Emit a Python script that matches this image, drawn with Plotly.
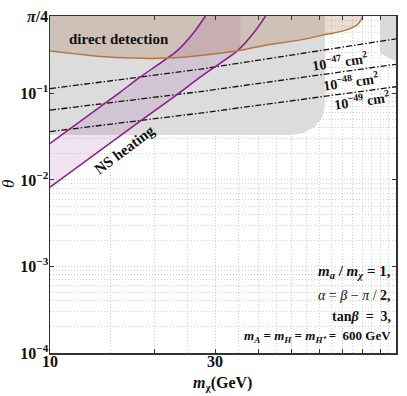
import math
import plotly.graph_objects as go

# ---------------- data ----------------
# direct detection boundary (excluded above)
dd_mass = [10, 14, 17.4, 21.8, 27.2, 35.5, 42.6, 53, 63.5, 71.6, 77.6, 80.2]
dd_theta = [0.31, 0.268, 0.256, 0.256, 0.274, 0.315, 0.365, 0.416, 0.486, 0.539, 0.63, 0.785]

# NS heating band: two boundary lines
ns_upper_mass = [10, 15.75, 18.24, 23.34, 25.97, 28.13]
ns_upper_theta = [0.02652, 0.0997, 0.155, 0.3125, 0.4985, 0.785]
ns_lower_mass = [10, 18.6, 23.5, 27.22, 34.84, 38.76, 42.0]
ns_lower_theta = [0.00825, 0.0508, 0.0997, 0.155, 0.3125, 0.4985, 0.785]
ns_cut_mass = 35.5          # band fill is cut where lower line meets direct-detection curve
ns_cut_theta = 0.33

# large grey excluded region
grey_mass = [10, 62.3, 62.3, 61.2, 58.2, 54.1, 49.6, 10]
grey_theta = [0.785, 0.785, 0.0711, 0.0531, 0.0413, 0.035, 0.0331, 0.0331]

# small grey strip at the right
strip_mass = [89.9, 100, 100, 89.9]
strip_theta = [0.785, 0.785, 0.2355, 0.289]

# fixed cross-section contours
sigma_mass = [10, 27.22, 100]
sigma_47 = [0.1135, 0.1909, 0.4267]
sigma_48 = [0.0641, 0.1051, 0.2173]
sigma_49 = [0.0362, 0.0593, 0.1196]
sigma_labels = ["10<sup>−47</sup> cm<sup>2</sup>", "10<sup>−48</sup> cm<sup>2</sup>", "10<sup>−49</sup> cm<sup>2</sup>"]

x_tickvals = [10, 20, 30, 40, 50, 60, 70, 80, 90, 100]
x_ticktext = ["<b>10</b>", "", "<b>30</b>", "", "", "", "", "", "", "<b>10<sup>2</sup></b>"]
x_minor = [15, 25, 35, 45, 55, 65, 75, 85, 95]
y_tickvals = [1e-4, 1e-3, 1e-2, 1e-1, math.pi / 4]
y_ticktext = ["<b>10<sup>−4</sup></b>", "<b>10<sup>−3</sup></b>", "<b>10<sup>−2</sup></b>",
              "<b>10<sup>−1</sup></b>", "<b><i>π</i>/4</b>"]
y_minor = [k * 10.0 ** e for e in (-4, -3, -2, -1) for k in range(2, 10) if k * 10.0 ** e < 0.78]

# ---------------- figure ----------------
SERIF = "Liberation Serif"
W, H = 407, 396
ML, MR, MT, MB = 50, 11, 8, 43
PW, PH = W - ML - MR, H - MT - MB


def px(x):
    return (x - ML) / PW


def py(y):
    return (H - MB - y) / PH


fig = go.Figure()

fig.add_trace(go.Scatter(x=grey_mass, y=grey_theta, fill="toself", mode="none",
                         fillcolor="#dcdcdc", hoverinfo="skip", showlegend=False))
fig.add_trace(go.Scatter(x=strip_mass, y=strip_theta, fill="toself", mode="none",
                         fillcolor="#dadada", hoverinfo="skip", showlegend=False))

# direct detection fill
dd_fx = dd_mass + [dd_mass[-1], dd_mass[0]]
dd_fy = dd_theta + [math.pi / 4, math.pi / 4]
fig.add_trace(go.Scatter(x=dd_fx, y=dd_fy, fill="toself", mode="none",
                         fillcolor="rgba(150,90,40,0.2)", hoverinfo="skip", showlegend=False))

# NS heating fill
ns_fx = ns_upper_mass + [ns_cut_mass, ns_cut_mass] + [m for m in ns_lower_mass[::-1] if m < ns_cut_mass]
ns_fy = ns_upper_theta + [math.pi / 4, ns_cut_theta] + [t for m, t in zip(ns_lower_mass[::-1], ns_lower_theta[::-1]) if m < ns_cut_mass]
fig.add_trace(go.Scatter(x=ns_fx, y=ns_fy, fill="toself", mode="none",
                         fillcolor="rgba(140,30,150,0.12)", hoverinfo="skip", showlegend=False))

for s in (sigma_47, sigma_48, sigma_49):
    fig.add_trace(go.Scatter(x=sigma_mass, y=s, mode="lines",
                             line=dict(color="#111", width=1.3, dash="6px,2px,1.5px,2px"),
                             hoverinfo="skip", showlegend=False))

purple = "#8b1a89"
fig.add_trace(go.Scatter(x=ns_upper_mass, y=ns_upper_theta, mode="lines",
                         line=dict(color=purple, width=1.5, shape="spline", smoothing=0.6),
                         hoverinfo="skip", showlegend=False))
fig.add_trace(go.Scatter(x=ns_lower_mass, y=ns_lower_theta, mode="lines",
                         line=dict(color=purple, width=1.5, shape="spline", smoothing=0.6),
                         hoverinfo="skip", showlegend=False))
fig.add_trace(go.Scatter(x=dd_mass, y=dd_theta, mode="lines",
                         line=dict(color="#b5783c", width=1.5, shape="spline", smoothing=0.8),
                         hoverinfo="skip", showlegend=False))

ann = []


def add_text(x, y, text, size, angle=0, xanchor="center", color="#111"):
    ann.append(dict(x=px(x), y=py(y), xref="paper", yref="paper", text=text, showarrow=False,
                    textangle=angle, xanchor=xanchor, yanchor="middle",
                    font=dict(family=SERIF, size=size, color=color)))


add_text(119, 32, "<b>direct detection</b>", 15)
add_text(124, 145, "<b>NS heating</b>", 15, angle=-37)
add_text(340, 54, "<b>" + sigma_labels[0] + "</b>", 14, angle=-8)
add_text(351, 75, "<b>" + sigma_labels[1] + "</b>", 14, angle=-8)
add_text(362, 94, "<b>" + sigma_labels[2] + "</b>", 14, angle=-8)

add_text(393, 270, "<b><i>m<sub>a</sub></i> / <i>m<sub>χ</sub></i> = 1,</b>", 15, xanchor="right")
add_text(393, 294, "<i>α</i> = <i>β</i> − <i>π</i> / <b>2,</b>", 14, xanchor="right")
add_text(393, 316, "<b>tan<i>β</i>  =  3,</b>", 14, xanchor="right")
add_text(393, 336, "<b><i>m<sub>A</sub></i> = <i>m<sub>H</sub></i> = <i>m<sub>H⁺</sub></i> =  600 GeV</b>", 13, xanchor="right")

add_text(222, 384, "<b><i>m</i><sub>χ</sub>(GeV)</b>", 16)
add_text(8, 180, "<i>θ</i>", 17, angle=-90)

fig.update_layout(annotations=ann)

GRID = "#cfcfcf"
GDASH = "1px,2px"
axis_common = dict(showline=True, linecolor="#333", linewidth=1.5, mirror="ticks",
                   ticks="inside", ticklen=4, tickwidth=1, tickcolor="#333",
                   showgrid=True, gridcolor=GRID, griddash=GDASH, gridwidth=1,
                   tickfont=dict(family=SERIF, size=16, color="#111"))

fig.update_xaxes(type="log", range=[1, 2], tickmode="array", tickvals=x_tickvals, ticktext=x_ticktext,
                 ticklabelstandoff=-7,
                 minor=dict(tickmode="array", tickvals=x_minor, showgrid=True, gridcolor=GRID,
                            griddash=GDASH, ticks=""),
                 **axis_common)
fig.update_yaxes(type="log", range=[-4, math.log10(math.pi / 4)], tickmode="array",
                 tickvals=y_tickvals, ticktext=y_ticktext, ticklabelstandoff=-3,
                 minor=dict(tickmode="array", tickvals=y_minor, showgrid=True, gridcolor=GRID,
                            griddash=GDASH, ticks=""),
                 **axis_common)

fig.update_layout(width=W, height=H, margin=dict(l=ML, r=MR, t=MT, b=MB),
                  plot_bgcolor="white", paper_bgcolor="white", hovermode=False)

fig.write_html("out.html", config={"displayModeBar": False, "staticPlot": True},
               post_script="document.body.style.margin='0px';")
